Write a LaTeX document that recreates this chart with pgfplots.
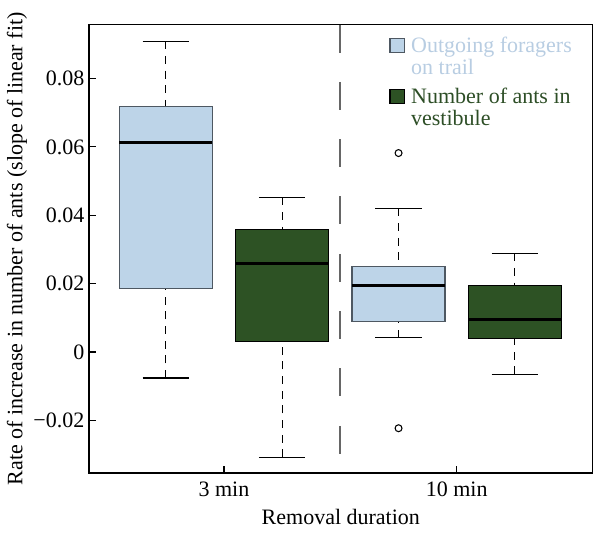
\documentclass[border=0pt]{standalone}
\usepackage{pgfplots}
\pgfplotsset{compat=1.18}
\usepackage{fontspec}
\setmainfont{Liberation Serif}
\definecolor{lblue}{RGB}{189,212,232}
\definecolor{bedge}{RGB}{78,88,98}
\definecolor{dgreen}{RGB}{45,82,36}
\definecolor{lbluetext}{RGB}{184,205,226}
\definecolor{dgreentext}{RGB}{45,78,38}
\newcommand{\lf}{\fontsize{16.5}{19.8}\selectfont}
\pgfplotsset{
  whisk/.style={forget plot, black, line width=0.8pt, dash pattern=on 6pt off 5pt},
  cap/.style={forget plot, black, line width=0.8pt, solid},
  med/.style={forget plot, black, line width=2.2pt},
  bluebox/.style={forget plot, fill=lblue, draw=bedge, line width=1pt, line join=miter},
  greenbox/.style={forget plot, fill=dgreen, draw=black, line width=1pt, line join=miter},
}
\begin{document}
\begin{tikzpicture}
\useasboundingbox (-66.75pt,-47.25pt) rectangle (383.3pt,354.8pt);
\begin{axis}[
  scale only axis,
  width=377.8pt, height=336.4pt,
  xmin=0.42, xmax=2.584,
  ymin=-0.0354, ymax=0.0958,
  scaled y ticks=false, scaled x ticks=false,
  xtick={1,2}, xticklabels={3 min,10 min},
  ytick={-0.02,0,0.02,0.04,0.06,0.08},
  yticklabels={−0.02,0,0.02,0.04,0.06,0.08},
  xtick pos=bottom, ytick pos=left,
  major tick length=5pt,
  tick style={black, line width=0.8pt},
  axis line style={line width=0.8pt},
  tick label style={font=\lf},
  xticklabel style={yshift=-3pt},
  label style={font=\lf},
  xlabel={Removal duration},
  ylabel={Rate of increase in number of ants (slope of linear fit)},
  xlabel style={at={(axis description cs:0.5,-0.098)}, anchor=center},
  ylabel style={at={(axis description cs:-0.143,0.5)}, anchor=center},
  legend image code/.code={\draw[#1, line width=0.8pt] (0pt,-0.5pt) rectangle (11pt,10.5pt);},
  legend style={at={(axis description cs:0.596,0.9735)}, anchor=north west,
    draw=none, fill=none, inner sep=0pt, font=\lf,
    nodes={inner sep=0pt, text depth=}, cells={anchor=base west},
    column sep=4.5pt, row sep=10pt},
]
% separator between removal durations
\addplot[forget plot, black!60, line width=1.5pt, dash pattern=on 21pt off 22pt]
  coordinates {(1.5,0.0958) (1.5,-0.0316)};

% ---- 3 min, outgoing foragers (blue): lw=-0.0076 q1=0.0185 med=0.0612 q3=0.0719 uw=0.0909
\addplot[whisk] coordinates {(0.75,0.0909) (0.75,0.0719)};
\addplot[whisk] coordinates {(0.75,-0.0076) (0.75,0.0185)};
\addplot[cap] coordinates {(0.65,0.0909) (0.85,0.0909)};
\addplot[cap] coordinates {(0.65,-0.0076) (0.85,-0.0076)};
\addplot[bluebox] coordinates {(0.55,0.0185) (0.95,0.0185) (0.95,0.0719) (0.55,0.0719) (0.55,0.0185)};
\addplot[med] coordinates {(0.55,0.0612) (0.95,0.0612)};

% ---- 3 min, ants in vestibule (green): lw=-0.0308 q1=0.0030 med=0.0258 q3=0.0358 uw=0.0452
\addplot[whisk] coordinates {(1.25,0.0452) (1.25,0.0358)};
\addplot[whisk] coordinates {(1.25,-0.0308) (1.25,0.0030)};
\addplot[cap] coordinates {(1.15,0.0452) (1.35,0.0452)};
\addplot[cap] coordinates {(1.15,-0.0308) (1.35,-0.0308)};
\addplot[greenbox] coordinates {(1.05,0.0030) (1.45,0.0030) (1.45,0.0358) (1.05,0.0358) (1.05,0.0030)};
\addplot[med] coordinates {(1.05,0.0258) (1.45,0.0258)};

% ---- 10 min, outgoing foragers (blue): lw=0.0042 q1=0.0089 med=0.0195 q3=0.0251 uw=0.0420
\addplot[whisk] coordinates {(1.75,0.0420) (1.75,0.0251)};
\addplot[whisk] coordinates {(1.75,0.0042) (1.75,0.0089)};
\addplot[cap] coordinates {(1.65,0.0420) (1.85,0.0420)};
\addplot[cap] coordinates {(1.65,0.0042) (1.85,0.0042)};
\addplot[bluebox] coordinates {(1.55,0.0089) (1.95,0.0089) (1.95,0.0251) (1.55,0.0251) (1.55,0.0089)};
\addplot[med] coordinates {(1.55,0.0195) (1.95,0.0195)};
\addplot[forget plot, only marks, mark=o, mark size=2.6pt, mark options={black, solid, line width=0.8pt}]
  coordinates {(1.75,0.0582) (1.75,-0.0223)};

% ---- 10 min, ants in vestibule (green): lw=-0.0065 q1=0.0040 med=0.0094 q3=0.0194 uw=0.0289
\addplot[whisk] coordinates {(2.25,0.0289) (2.25,0.0194)};
\addplot[whisk] coordinates {(2.25,-0.0065) (2.25,0.0040)};
\addplot[cap] coordinates {(2.15,0.0289) (2.35,0.0289)};
\addplot[cap] coordinates {(2.15,-0.0065) (2.35,-0.0065)};
\addplot[greenbox] coordinates {(2.05,0.0040) (2.45,0.0040) (2.45,0.0194) (2.05,0.0194) (2.05,0.0040)};
\addplot[med] coordinates {(2.05,0.0094) (2.45,0.0094)};

\addlegendimage{fill=lblue, draw=bedge}
\addlegendentry[text=lbluetext]{\parbox[t]{5cm}{\raggedright\fontsize{16.5}{16.5}\selectfont Outgoing foragers\\on trail}}
\addlegendimage{fill=dgreen, draw=black}
\addlegendentry[text=dgreentext]{\parbox[t]{5cm}{\raggedright\fontsize{16.5}{16.5}\selectfont Number of ants in\\vestibule}}
\end{axis}
\end{tikzpicture}
\end{document}
